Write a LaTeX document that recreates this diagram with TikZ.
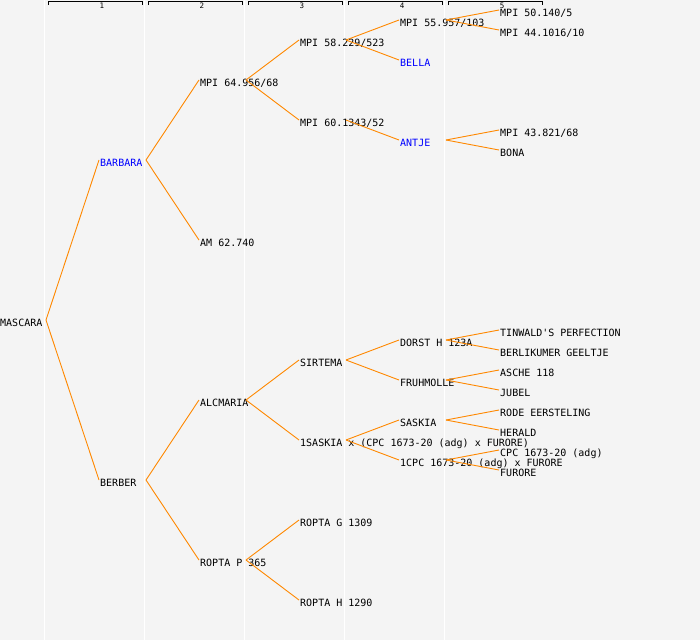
\documentclass[tikz,border=0pt]{standalone}
\usepackage{fontspec}
\setmonofont{DejaVu Sans Mono}
\definecolor{bgc}{RGB}{244,244,244}
\definecolor{edgec}{RGB}{255,136,0}
\definecolor{bluec}{RGB}{0,0,255}
\tikzset{
  lbl/.style={anchor=west, inner xsep=0pt, inner ysep=0pt, text height=12pt, text depth=0pt,
    font=\ttfamily\fontsize{10}{12}\selectfont, text=black},
  blu/.style={lbl, text=bluec},
  edge/.style={draw=edgec, line width=0.9pt},
  guide/.style={draw=white, line width=1.5pt},
  bracket/.style={draw=black, line width=0.9pt},
  colnum/.style={anchor=base, inner sep=0pt, font=\ttfamily\fontsize{7.5}{8}\selectfont}
}
\begin{document}
\begin{tikzpicture}[x=1pt,y=-1pt]
\useasboundingbox (0,0) rectangle (700,640);
\fill[bgc] (0,0) rectangle (700,640);
% guide lines
\foreach \gx in {44.5,144.5,244.5,344.5,444.5} \draw[guide] (\gx,0) -- (\gx,640);
% column brackets and numbers
\foreach \k in {1,...,5} {
  \draw[bracket] (100*\k-52,5) -- (100*\k-52,1.5) -- (100*\k+42,1.5) -- (100*\k+42,5);
  \node[colnum] (n\k) at (100*\k+2,8.7) {\k};
}
% nodes (placed at x, baseline-6)
\node[lbl] (c0) at (0,320) {MASCARA};
\node[blu] (c1a) at (100,160) {BARBARA};
\node[lbl] (c1b) at (100,480) {BERBER};
\node[lbl] (c2a) at (200,80) {MPI 64.956/68};
\node[lbl] (c2b) at (200,240) {AM 62.740};
\node[lbl] (c2c) at (200,400) {ALCMARIA};
\node[lbl] (c2d) at (200,560) {ROPTA P 365};
\node[lbl] (c3a) at (300,40) {MPI 58.229/523};
\node[lbl] (c3b) at (300,120) {MPI 60.1343/52};
\node[lbl] (c3c) at (300,360) {SIRTEMA};
\node[lbl] (c3d) at (300,440) {1SASKIA x (CPC 1673-20 (adg) x FURORE)};
\node[lbl] (c3e) at (300,520) {ROPTA G 1309};
\node[lbl] (c3f) at (300,600) {ROPTA H 1290};
\node[lbl] (c4a) at (400,20) {MPI 55.957/103};
\node[blu] (c4b) at (400,60) {BELLA};
\node[blu] (c4c) at (400,140) {ANTJE};
\node[lbl] (c4d) at (400,340) {DORST H 123A};
\node[lbl] (c4e) at (400,380) {FRUHMOLLE};
\node[lbl] (c4f) at (400,420) {SASKIA};
\node[lbl] (c4g) at (400,460) {1CPC 1673-20 (adg) x FURORE};
\node[lbl] (c5a) at (500,10) {MPI 50.140/5};
\node[lbl] (c5b) at (500,30) {MPI 44.1016/10};
\node[lbl] (c5c) at (500,130) {MPI 43.821/68};
\node[lbl] (c5d) at (500,150) {BONA};
\node[lbl] (c5e) at (500,330) {TINWALD'S PERFECTION};
\node[lbl] (c5f) at (500,350) {BERLIKUMER GEELTJE};
\node[lbl] (c5g) at (500,370) {ASCHE 118};
\node[lbl] (c5h) at (500,390) {JUBEL};
\node[lbl] (c5i) at (500,410) {RODE EERSTELING};
\node[lbl] (c5j) at (500,430) {HERALD};
\node[lbl] (c5k) at (500,450) {CPC 1673-20 (adg)};
\node[lbl] (c5l) at (500,470) {FURORE};
% connectors: from parent's fork point to child's left edge
\foreach \p/\c in {c0/c1a, c0/c1b,
  c1a/c2a, c1a/c2b, c1b/c2c, c1b/c2d,
  c2a/c3a, c2a/c3b, c2c/c3c, c2c/c3d, c2d/c3e, c2d/c3f,
  c3a/c4a, c3a/c4b, c3b/c4c, c3c/c4d, c3c/c4e, c3d/c4f, c3d/c4g,
  c4a/c5a, c4a/c5b, c4c/c5c, c4c/c5d, c4d/c5e, c4d/c5f,
  c4e/c5g, c4e/c5h, c4f/c5i, c4f/c5j, c4g/c5k, c4g/c5l}
  \draw[edge] ([xshift=46pt]\p.west) -- ([xshift=-1pt]\c.west);
\end{tikzpicture}
\end{document}
